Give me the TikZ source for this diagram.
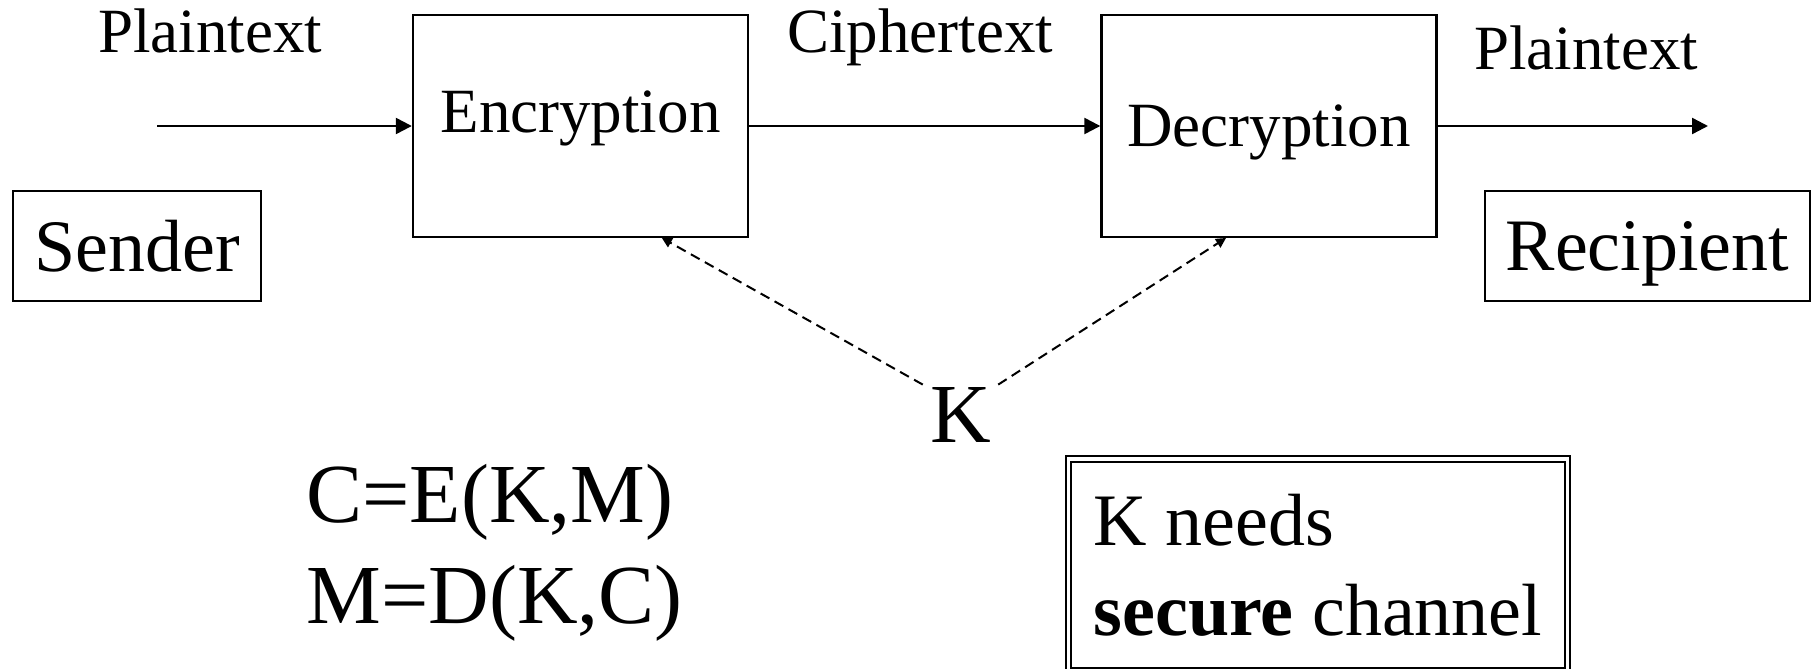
\documentclass[tikz,border=0pt]{standalone}
\usepackage{fontspec}
\setmainfont{Liberation Serif}
\usepackage{tikz}
\usetikzlibrary{arrows.meta}

\begin{document}
\begin{tikzpicture}[
    x=0.5pt, y=-0.5pt,
    box/.style={draw, line width=1.2pt, minimum width=167.5pt, minimum height=110.75pt,
      font=\fontsize{31.5}{38}\selectfont},
    party/.style={draw, line width=1.2pt, minimum height=54.75pt, text depth=0pt,
      font=\fontsize{37}{44}\selectfont},
    lbl/.style={anchor=base, font=\fontsize{31.5}{38}\selectfont},
    eq/.style={anchor=base west, inner sep=0pt, font=\fontsize{42}{50}\selectfont},
    note/.style={draw, double, line width=1pt, double distance=1.8pt, align=left,
      minimum width=249.4pt, minimum height=106.25pt, font=\fontsize{37}{45}\selectfont},
    arr/.style={-{Triangle[length=8pt, width=8pt]}, line width=1.2pt},
    keyarr/.style={-{Triangle[length=5pt, width=5pt]}, line width=1pt,
      dash pattern=on 5pt off 3pt},
  ]
    \useasboundingbox (0,0) rectangle (1816,669);

    % Main channel
    \node[box, text depth=14.5pt] (enc) at (580.5,126) {Encryption};
    \node[box, text depth=0pt] (dec) at (1269,126) {Decryption};
    \coordinate (src) at (157,126);
    \coordinate (dst) at (1708,126);
    \draw[arr] (src) -- (enc);
    \draw[arr] (enc) -- (dec);
    \draw[arr] (dec) -- (dst);
    \node[lbl] (plain in) at (210,53) {Plaintext};
    \node[lbl] (cipher) at (920,53) {Ciphertext};
    \node[lbl] (plain out) at (1586,69) {Plaintext};

    % Parties
    \node[party, minimum width=123.75pt] (sender) at (137,246) {Sender};
    \node[party, minimum width=162.25pt] (recip) at (1647.5,246) {Recipient};

    % Shared key
    \node[anchor=base, inner xsep=3.5pt, inner ysep=1pt,
      font=\fontsize{42}{50}\selectfont] (key) at (960.5,442) {K};
    \draw[keyarr] (key.north west) -- (enc.-54);
    \draw[keyarr] (key.north east) -- (dec.-111);

    % Equations and note
    \node[eq] (enc eq) at (306,522) {C=E(K,M)};
    \node[eq] (dec eq) at (306,623) {M=D(K,C)};
    \node[note] (need) at (1318,565) {K needs\\\textbf{secure} channel};
  \end{tikzpicture}
\end{document}
